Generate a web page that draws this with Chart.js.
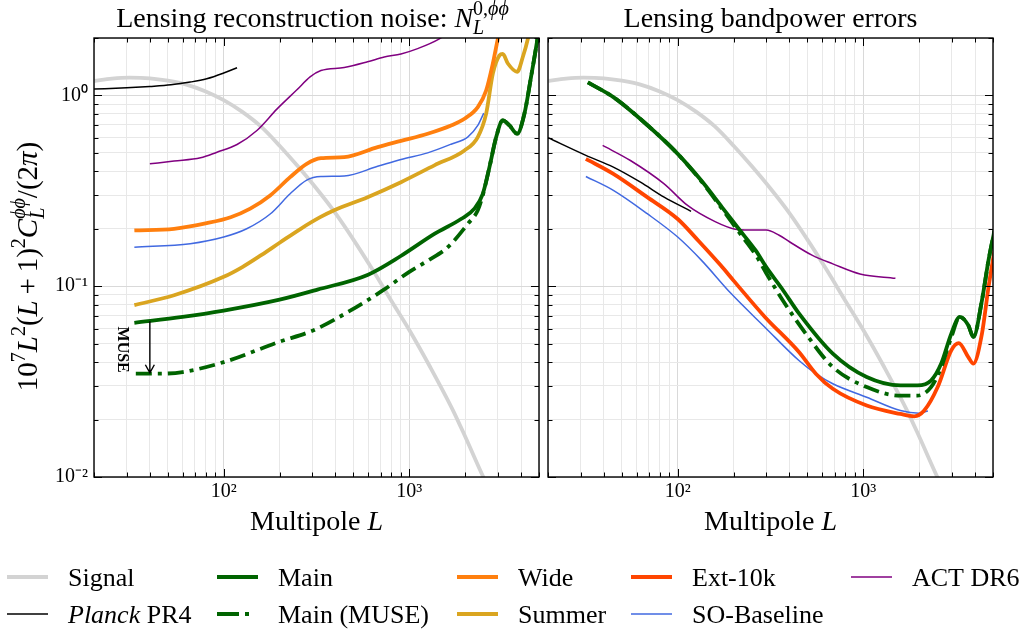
<!DOCTYPE html>
<html>
<head>
<meta charset="utf-8">
<script src="https://cdn.jsdelivr.net/npm/chart.js@4.4.0/dist/chart.umd.min.js"></script>
<style>
  html, body { margin: 0; padding: 0; background: #fff; }
  body { width: 1026px; height: 632px; position: relative; overflow: hidden; }
  canvas { position: absolute; }
  #left { left: 0; top: 0; }
  #right { left: 540px; top: 0; }
  #legend { left: 0; top: 545px; }
</style>
</head>
<body>
<canvas id="left" width="542" height="545"></canvas>
<canvas id="right" width="486" height="545"></canvas>
<canvas id="legend" width="1026" height="87"></canvas>
<script>
// axis ranges and ticks
const X_MIN = 20, X_MAX = 5000;
const Y_MIN = 0.01, Y_MAX = 2;
const X_TICKS = [20, 30, 40, 50, 60, 70, 80, 90, 100, 200, 300, 400, 500, 600, 700, 800, 900, 1000, 2000, 3000, 4000, 5000];
const X_LABELS = {100: '10\u00b2', 1000: '10\u00b3'};
const Y_TICKS = [0.01, 0.02, 0.03, 0.04, 0.05, 0.06, 0.07, 0.08, 0.09, 0.1, 0.2, 0.3, 0.4, 0.5, 0.6, 0.7, 0.8, 0.9, 1, 2];
const Y_LABELS = {0.01: '10\u207b\u00b2', 0.1: '10\u207b\u00b9', 1: '10\u2070'};

// lensing signal (same curve in both panels)
const SIGNAL_L = [20, 25, 31, 40, 50, 63, 80, 100, 126, 158, 200, 251, 316, 398, 501, 631, 794, 1000, 1300, 1714, 2000, 2530, 3000];
const SIGNAL_V = [1.19, 1.225, 1.24, 1.23, 1.195, 1.14, 1.05, 0.945, 0.82, 0.69, 0.545, 0.425, 0.325, 0.243, 0.175, 0.123, 0.085, 0.059, 0.0375, 0.0225, 0.0163, 0.0098, 0.007];

// left panel: reconstruction noise N_L
const PLANCK_NL_L = [20, 30, 40, 52, 66, 81, 100, 118];
const PLANCK_NL_V = [1.08, 1.097, 1.115, 1.137, 1.175, 1.223, 1.31, 1.397];
const ACT_NL_L = [40, 54, 75, 92, 118, 151, 194, 248, 292, 334, 446, 596, 733, 902, 1109, 1452, 1800];
const ACT_NL_V = [0.438, 0.453, 0.471, 0.504, 0.553, 0.655, 0.85, 1.07, 1.25, 1.35, 1.40, 1.50, 1.59, 1.65, 1.76, 1.98, 2.3];
const WIDE_NL_L = [33, 54, 81, 109, 139, 178, 228, 280, 334, 446, 675, 902, 1256, 1679, 1983, 2340, 2594, 2820, 3000, 3200];
const WIDE_NL_V = [0.196, 0.2, 0.214, 0.23, 0.255, 0.299, 0.373, 0.438, 0.469, 0.475, 0.536, 0.578, 0.63, 0.696, 0.755, 0.868, 1.06, 1.47, 1.98, 2.6];
const SO_NL_L = [33, 66, 100, 133, 178, 228, 280, 334, 446, 675, 902, 1256, 1679, 2064, 2340, 2520];
const SO_NL_V = [0.16, 0.167, 0.181, 0.2, 0.239, 0.305, 0.36, 0.376, 0.378, 0.425, 0.462, 0.5, 0.555, 0.605, 0.696, 0.808];
const SUMMER_NL_L = [33, 54, 100, 126, 160, 202, 260, 331, 394, 596, 902, 1365, 1983, 2340, 2594, 2820, 3063, 3190, 3398, 3812, 4090, 4355, 4600];
const SUMMER_NL_V = [0.0796, 0.0897, 0.112, 0.126, 0.146, 0.17, 0.2, 0.23, 0.25, 0.293, 0.351, 0.43, 0.515, 0.605, 0.8, 1.3, 1.62, 1.65, 1.47, 1.33, 1.59, 1.98, 2.6];
const MAIN_NL_L = [33, 60, 100, 200, 320, 600, 900, 1365, 1900, 2244, 2490, 2704, 2940, 3190, 3467, 3812, 4170, 4530, 4920, 5100];
const MAIN_NL_V = [0.0643, 0.069, 0.0745, 0.085, 0.096, 0.115, 0.144, 0.188, 0.225, 0.255, 0.305, 0.421, 0.605, 0.74, 0.696, 0.63, 0.8, 1.25, 2.02, 2.6];
const MUSE_NL_L = [33.6, 45, 60, 100, 198, 305, 470, 723, 1000, 1256, 1611, 2066, 2340, 2490, 2704, 2940, 3190, 3467, 3812, 4170, 4530, 4920, 5100];
const MUSE_NL_V = [0.0348, 0.0348, 0.0355, 0.04, 0.051, 0.0588, 0.0735, 0.0953, 0.119, 0.136, 0.16, 0.212, 0.25, 0.3, 0.421, 0.605, 0.74, 0.696, 0.63, 0.8, 1.25, 2.02, 2.6];

// MUSE arrow annotation (data coordinates)
const ARROW_L = 40, ARROW_FROM = 0.0655, ARROW_TO = 0.0352;
const MUSE_TEXT_L = 28.5, MUSE_TEXT_V = 0.0465;

// right panel: bandpower errors
const PLANCK_BP_L = [20, 32, 45, 63, 84.5, 118];
const PLANCK_BP_V = [0.6, 0.485, 0.421, 0.351, 0.293, 0.247];
const ACT_BP_L = [39.4, 55.6, 84.5, 113, 159, 204, 242, 300, 352, 400, 532, 685, 960, 1490];
const ACT_BP_V = [0.547, 0.456, 0.344, 0.265, 0.218, 0.199, 0.197, 0.197, 0.185, 0.171, 0.145, 0.131, 0.116, 0.11];
const EXT_BP_L = [32, 45, 68.5, 100, 130, 170, 200, 295, 450, 555, 685, 1043, 1585, 1880, 2130, 2517, 2980, 3270, 3680, 3920, 4360, 4730, 5100];
const EXT_BP_V = [0.465, 0.388, 0.293, 0.225, 0.172, 0.129, 0.107, 0.069, 0.0452, 0.0348, 0.029, 0.0237, 0.0214, 0.0208, 0.0223, 0.0296, 0.0461, 0.0503, 0.0425, 0.0393, 0.0564, 0.099, 0.155];
const SO_BP_L = [32, 45, 68.5, 100, 134, 194, 295, 450, 555, 685, 1043, 1585, 2000, 2230];
const SO_BP_V = [0.376, 0.318, 0.24, 0.181, 0.137, 0.0915, 0.061, 0.0408, 0.0348, 0.0308, 0.0262, 0.0223, 0.0216, 0.0222];
const MAIN_BP_L = [32.8, 45, 68.5, 100, 134, 173, 213, 263, 300, 365, 450, 685, 1043, 1585, 1958, 2317, 2630, 2980, 3310, 3680, 3920, 4360, 4730, 5100];
const MAIN_BP_V = [1.17, 0.98, 0.70, 0.494, 0.358, 0.26, 0.2, 0.154, 0.126, 0.097, 0.072, 0.0443, 0.0334, 0.0302, 0.0302, 0.032, 0.0393, 0.0564, 0.069, 0.0624, 0.0542, 0.0844, 0.137, 0.197];
const MUSE_BP_L = [32.8, 45, 68.5, 100, 134, 173, 213, 263, 300, 365, 490, 685, 1043, 1585, 1958, 2317, 2630, 2980, 3310, 3680, 3920, 4360, 4730, 5100];
const MUSE_BP_V = [1.17, 0.98, 0.70, 0.494, 0.355, 0.255, 0.193, 0.146, 0.117, 0.0855, 0.0564, 0.0377, 0.0296, 0.0267, 0.0267, 0.0296, 0.0376, 0.054, 0.069, 0.0624, 0.0542, 0.0844, 0.137, 0.197];

const FONT = '"Liberation Serif", "Times New Roman", serif';
const C = {
  signal: '#d3d3d3', main: '#006400', wide: '#ff7f0e', summer: '#daa520',
  ext: '#ff4500', so: '#4169e1', act: '#800080', planck: '#000000'
};
const THICK = 3.8, THIN = 1.5;
const DASHDOT = [16, 6, 4, 6];
const PHI = '\u03d5\u03d5';

function pts(L, V) {
  return L.map((l, i) => ({x: l, y: V[i]}));
}

function line(label, L, V, color, width, dash) {
  return {
    label: label,
    data: pts(L, V),
    borderColor: color,
    borderWidth: width,
    borderDash: dash || [],
    pointRadius: 0,
    fill: false,
    cubicInterpolationMode: 'monotone',
    clip: 0
  };
}

function gridColor(c) {
  if (!c.tick) return '#e6e6e6';
  const v = c.tick.value;
  return (X_LABELS[v] || Y_LABELS[v]) ? '#d9d9d9' : '#e8e8e8';
}

function makeScales(showYLabels, yWidth) {
  return {
    x: {
      type: 'logarithmic', min: X_MIN, max: X_MAX,
      afterBuildTicks: s => { s.ticks = X_TICKS.map(v => ({value: v})); },
      afterFit: s => { s.height = 68; },
      ticks: {
        autoSkip: false, maxRotation: 0, padding: 3, color: '#000',
        font: {family: FONT, size: 20},
        callback: v => X_LABELS[v] || ''
      },
      grid: {color: gridColor, drawTicks: false, lineWidth: 1},
      border: {display: false}
    },
    y: {
      type: 'logarithmic', min: Y_MIN, max: Y_MAX,
      afterBuildTicks: s => { s.ticks = Y_TICKS.map(v => ({value: v})); },
      afterFit: s => { s.width = yWidth; },
      ticks: {
        display: showYLabels, autoSkip: false, padding: 6, color: '#000',
        font: {family: FONT, size: 20},
        callback: v => Y_LABELS[v] || ''
      },
      grid: {color: gridColor, drawTicks: false, lineWidth: 1},
      border: {display: false}
    }
  };
}

// rich text: parts {t, i (italic), b (bold), s (size factor), dy (baseline shift, em), stay (no advance)}
function fontOf(p, base) {
  return (p.i ? 'italic ' : '') + (p.b ? 'bold ' : '') + Math.round((p.s || 1) * base) + 'px ' + FONT;
}
function drawRich(ctx, parts, x, y, base, align) {
  let w = 0;
  parts.forEach(p => {
    ctx.font = fontOf(p, base);
    p._w = ctx.measureText(p.t).width;
    if (!p.stay) w += p._w;
  });
  let cx = align === 'center' ? x - w / 2 : x;
  ctx.textAlign = 'left';
  ctx.textBaseline = 'alphabetic';
  parts.forEach(p => {
    ctx.font = fontOf(p, base);
    ctx.fillText(p.t, cx, y + (p.dy || 0) * base);
    if (!p.stay) cx += p._w;
  });
}
const SUP = {s: 0.7, dy: -0.42};
const SUB = {s: 0.7, dy: 0.24};

// frame with inward ticks, titles
const framePlugin = {
  id: 'frame',
  afterDatasetsDraw(chart, args, opts) {
    const ctx = chart.ctx, a = chart.chartArea;
    const xs = chart.scales.x, ys = chart.scales.y;
    ctx.save();
    ctx.strokeStyle = '#000';
    ctx.lineWidth = 1;
    ctx.beginPath();
    X_TICKS.forEach(v => {
      const px = Math.round(xs.getPixelForValue(v)) + 0.5;
      const len = X_LABELS[v] ? 8 : 4.5;
      ctx.moveTo(px, a.bottom); ctx.lineTo(px, a.bottom - len);
      ctx.moveTo(px, a.top); ctx.lineTo(px, a.top + len);
    });
    Y_TICKS.forEach(v => {
      const py = Math.round(ys.getPixelForValue(v)) + 0.5;
      const len = Y_LABELS[v] ? 8 : 4.5;
      ctx.moveTo(a.left, py); ctx.lineTo(a.left + len, py);
      ctx.moveTo(a.right, py); ctx.lineTo(a.right - len, py);
    });
    ctx.stroke();
    ctx.lineWidth = 1.4;
    ctx.strokeRect(a.left, a.top, a.right - a.left, a.bottom - a.top);

    ctx.fillStyle = '#000';
    const cx = (a.left + a.right) / 2;
    drawRich(ctx, opts.title, cx + (opts.titleShift || 0), 27, 28, 'center');
    drawRich(ctx, [{t: 'Multipole '}, {t: 'L', i: 1}], cx, 530, 28, 'center');
    if (opts.yTitle) {
      ctx.save();
      ctx.translate(37, (a.top + a.bottom) / 2 + 9);
      ctx.rotate(-Math.PI / 2);
      drawRich(ctx, opts.yTitle, 0, 0, 29, 'center');
      ctx.restore();
    }
    ctx.restore();
  }
};

const musePlugin = {
  id: 'museNote',
  afterDatasetsDraw(chart) {
    const ctx = chart.ctx, xs = chart.scales.x, ys = chart.scales.y;
    const px = xs.getPixelForValue(ARROW_L);
    const y0 = ys.getPixelForValue(ARROW_FROM), y1 = ys.getPixelForValue(ARROW_TO);
    ctx.save();
    ctx.strokeStyle = '#000';
    ctx.lineWidth = 1.4;
    ctx.beginPath();
    ctx.moveTo(px, y0); ctx.lineTo(px, y1);
    ctx.moveTo(px - 4.5, y1 - 8); ctx.lineTo(px, y1); ctx.lineTo(px + 4.5, y1 - 8);
    ctx.stroke();
    ctx.translate(xs.getPixelForValue(MUSE_TEXT_L), ys.getPixelForValue(MUSE_TEXT_V));
    ctx.rotate(Math.PI / 2);
    ctx.fillStyle = '#000';
    ctx.font = 'bold 16px ' + FONT;
    ctx.textAlign = 'center';
    ctx.textBaseline = 'middle';
    ctx.fillText('MUSE', 0, 0);
    ctx.restore();
  }
};

const baseOptions = (showY, yWidth, padRight, frameOpts) => ({
  responsive: false,
  animation: false,
  devicePixelRatio: 1,
  layout: {padding: {top: 38, left: 0, right: padRight, bottom: 0}},
  scales: makeScales(showY, yWidth),
  plugins: {legend: {display: false}, tooltip: {enabled: false}, frame: frameOpts}
});

// left: reconstruction noise (first listed draws on top)
new Chart(document.getElementById('left'), {
  type: 'line',
  data: {datasets: [
    line('Main', MAIN_NL_L, MAIN_NL_V, C.main, THICK),
    line('Main (MUSE)', MUSE_NL_L, MUSE_NL_V, C.main, THICK, DASHDOT),
    line('Wide', WIDE_NL_L, WIDE_NL_V, C.wide, THICK),
    line('Summer', SUMMER_NL_L, SUMMER_NL_V, C.summer, THICK),
    line('SO-Baseline', SO_NL_L, SO_NL_V, C.so, THIN),
    line('ACT DR6', ACT_NL_L, ACT_NL_V, C.act, THIN),
    line('Planck PR4', PLANCK_NL_L, PLANCK_NL_V, C.planck, THIN),
    line('Signal', SIGNAL_L, SIGNAL_V, C.signal, THICK)
  ]},
  options: baseOptions(true, 94, 3, {
    titleShift: -4,
    title: [
      {t: 'Lensing reconstruction noise: '}, {t: 'N', i: 1},
      Object.assign({t: 'L', i: 1, stay: 1}, SUB),
      Object.assign({t: '0,'}, SUP), Object.assign({t: PHI, i: 1}, SUP)
    ],
    yTitle: [
      {t: '10'}, Object.assign({t: '7'}, SUP), {t: 'L', i: 1}, Object.assign({t: '2'}, SUP),
      {t: '('}, {t: 'L', i: 1}, {t: '\u2009+\u20091)'}, Object.assign({t: '2'}, SUP),
      {t: 'C', i: 1}, Object.assign({t: 'L', i: 1, stay: 1}, SUB), Object.assign({t: PHI, i: 1}, SUP),
      {t: '/(2'}, {t: '\u03c0', i: 1}, {t: ')'}
    ]
  }),
  plugins: [framePlugin, musePlugin]
});

// right: bandpower errors
new Chart(document.getElementById('right'), {
  type: 'line',
  data: {datasets: [
    line('Main', MAIN_BP_L, MAIN_BP_V, C.main, THICK),
    line('Main (MUSE)', MUSE_BP_L, MUSE_BP_V, C.main, THICK, DASHDOT),
    line('Ext-10k', EXT_BP_L, EXT_BP_V, C.ext, THICK),
    line('SO-Baseline', SO_BP_L, SO_BP_V, C.so, THIN),
    line('ACT DR6', ACT_BP_L, ACT_BP_V, C.act, THIN),
    line('Planck PR4', PLANCK_BP_L, PLANCK_BP_V, C.planck, THIN),
    line('Signal', SIGNAL_L, SIGNAL_V, C.signal, THICK)
  ]},
  options: baseOptions(false, 8, 33, {
    title: [{t: 'Lensing bandpower errors'}]
  }),
  plugins: [framePlugin]
});

// legend (5 columns x 2 rows), drawn on its own canvas
const LEGEND = [
  {parts: [{t: 'Signal'}], color: C.signal, w: 4, col: 0, row: 0},
  {parts: [{t: 'Planck', i: 1}, {t: ' PR4'}], color: C.planck, w: THIN, col: 0, row: 1},
  {parts: [{t: 'Main'}], color: C.main, w: 4, col: 1, row: 0},
  {parts: [{t: 'Main (MUSE)'}], color: C.main, w: 4, col: 1, row: 1, dash: [22, 6, 4, 30]},
  {parts: [{t: 'Wide'}], color: C.wide, w: 4, col: 2, row: 0},
  {parts: [{t: 'Summer'}], color: C.summer, w: 4, col: 2, row: 1},
  {parts: [{t: 'Ext-10k'}], color: C.ext, w: 4, col: 3, row: 0},
  {parts: [{t: 'SO-Baseline'}], color: C.so, w: THIN, col: 3, row: 1},
  {parts: [{t: 'ACT DR6'}], color: C.act, w: THIN, col: 4, row: 0}
];
const COL_X = [7, 217, 457, 631, 851];
const ROW_Y = [32, 69];
const lctx = document.getElementById('legend').getContext('2d');
LEGEND.forEach(it => {
  const x = COL_X[it.col], y = ROW_Y[it.row];
  lctx.save();
  lctx.strokeStyle = it.color;
  lctx.lineWidth = it.w;
  lctx.setLineDash(it.dash || []);
  lctx.beginPath();
  lctx.moveTo(x, y); lctx.lineTo(x + 41, y);
  lctx.stroke();
  lctx.restore();
  lctx.fillStyle = '#000';
  drawRich(lctx, it.parts, x + 61, y + 9, 26, 'left');
});
</script>
</body>
</html>
